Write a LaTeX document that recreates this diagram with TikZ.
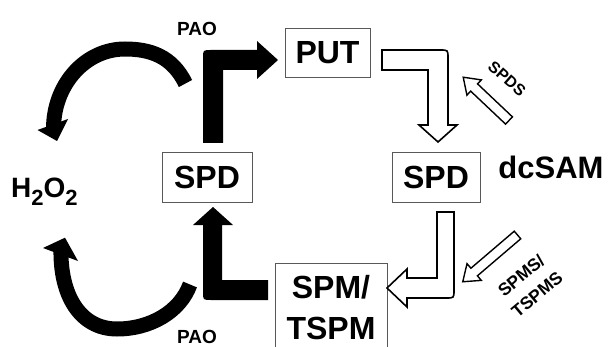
\documentclass[tikz,border=0pt]{standalone}
\usepackage{fontspec}
\setmainfont{Liberation Sans}
\definecolor{boxgray}{gray}{0.35}
\tikzset{
  box/.style={draw=boxgray, line width=0.9pt, inner sep=0pt, align=center,
    font=\fontsize{32}{41}\selectfont\bfseries},
  lbl/.style={inner sep=0pt},
  openarrow/.style={draw=black, fill=white, line width=1.6pt, line join=miter},
  thinopen/.style={draw=black, fill=white, line width=1.4pt, line join=miter},
  arcshaft/.style={draw=black, line width=15pt},
}
\begin{document}
\begin{tikzpicture}[x=1pt,y=-1pt]
  \fill[white] (0,0) rectangle (612,347);
  \useasboundingbox (0,0) rectangle (612,347);

  % metabolite boxes
  \node[box, minimum width=85pt, minimum height=49pt] (put) at (327.5,52.5) {PUT};
  \node[box, minimum width=90pt, minimum height=50pt] (spdL) at (207,177) {SPD};
  \node[box, minimum width=88pt, minimum height=50pt] (spdR) at (436,177) {SPD};
  \node[box, anchor=north, minimum width=112pt, minimum height=89pt] (spm) at (331,263) {SPM/\\TSPM};

  % free labels
  \node[lbl, font=\fontsize{19}{19}\selectfont\bfseries] (paoT) at (197,28.5) {PAO};
  \node[lbl, font=\fontsize{19}{19}\selectfont\bfseries] (paoB) at (197,337) {PAO};
  \node[lbl, font=\fontsize{31}{31}\selectfont\bfseries] (dcsam) at (551,167) {dcSAM};
  \node[lbl, anchor=base west, font=\fontsize{28}{28}\selectfont\bfseries] (h2o2) at (11,198)
    {H\raisebox{-8pt}{\fontsize{22}{22}\selectfont 2}O\raisebox{-8pt}{\fontsize{22}{22}\selectfont 2}};
  \node[lbl, rotate=-41, font=\fontsize{16}{16}\selectfont\bfseries] (spds) at (507,79) {SPDS};
  \node[lbl, rotate=40, align=center, font=\fontsize{17.5}{24.5}\selectfont\bfseries] (spms) at (529,285) {SPMS/\\TSPMS};

  % oxidation back-conversion: SPD -> PUT (solid)
  \fill (203,143) -- (203,58) .. controls (203,50) .. (211,50) -- (257,50) -- (257,41)
        -- (278,60) -- (257,79) -- (257,70) -- (223,70) -- (223,143) -- cycle;
  % SPM/TSPM -> SPD (solid)
  \fill (213,207) -- (233,225) -- (222,225) -- (222,280) -- (268,280) -- (268,300)
        -- (211,300) .. controls (203,300) .. (203,292) -- (203,225) -- (193,225) -- cycle;

  % H2O2 release arcs
  \draw[arcshaft] (185.5,83.5) .. controls (172,56) and (150,49) .. (125,49)
        .. controls (85,49) and (53,85) .. (53.5,130);
  \fill (37.5,130) -- (57,141) -- (68,119) -- cycle;
  \draw[arcshaft] (190,284.5) .. controls (180,312) and (150,329) .. (117,329)
        .. controls (80,329) and (60,295) .. (61,249);
  \fill (43,248) -- (65,237.7) -- (78,261) -- cycle;

  % biosynthesis: PUT -> SPD (open)
  \draw[openarrow] (382,50) -- (440,50) .. controls (448,50) .. (448,58) -- (448,125)
        -- (457,125) -- (438,142) -- (419,125) -- (428,125) -- (428,70) -- (382,70) -- cycle;
  % SPD -> SPM/TSPM (open)
  \draw[openarrow] (437,212) -- (454,212) -- (454,290) .. controls (454,298) .. (446,298)
        -- (407,298) -- (407,307) -- (387,288) -- (407,269) -- (407,278) -- (437,278) -- cycle;

  % enzyme input arrows
  \begin{scope}[shift={(509,120.5)}, rotate=136.6]
    \draw[thinopen] (0,-5) -- (48,-5) -- (48,-10.5) -- (63,0) -- (48,10.5) -- (48,5) -- (0,5) -- cycle;
  \end{scope}
  \begin{scope}[shift={(517.5,235)}, rotate=220.5]
    \draw[thinopen] (0,-5) -- (57,-5) -- (57,-11) -- (72,0) -- (57,11) -- (57,5) -- (0,5) -- cycle;
  \end{scope}
\end{tikzpicture}
\end{document}
